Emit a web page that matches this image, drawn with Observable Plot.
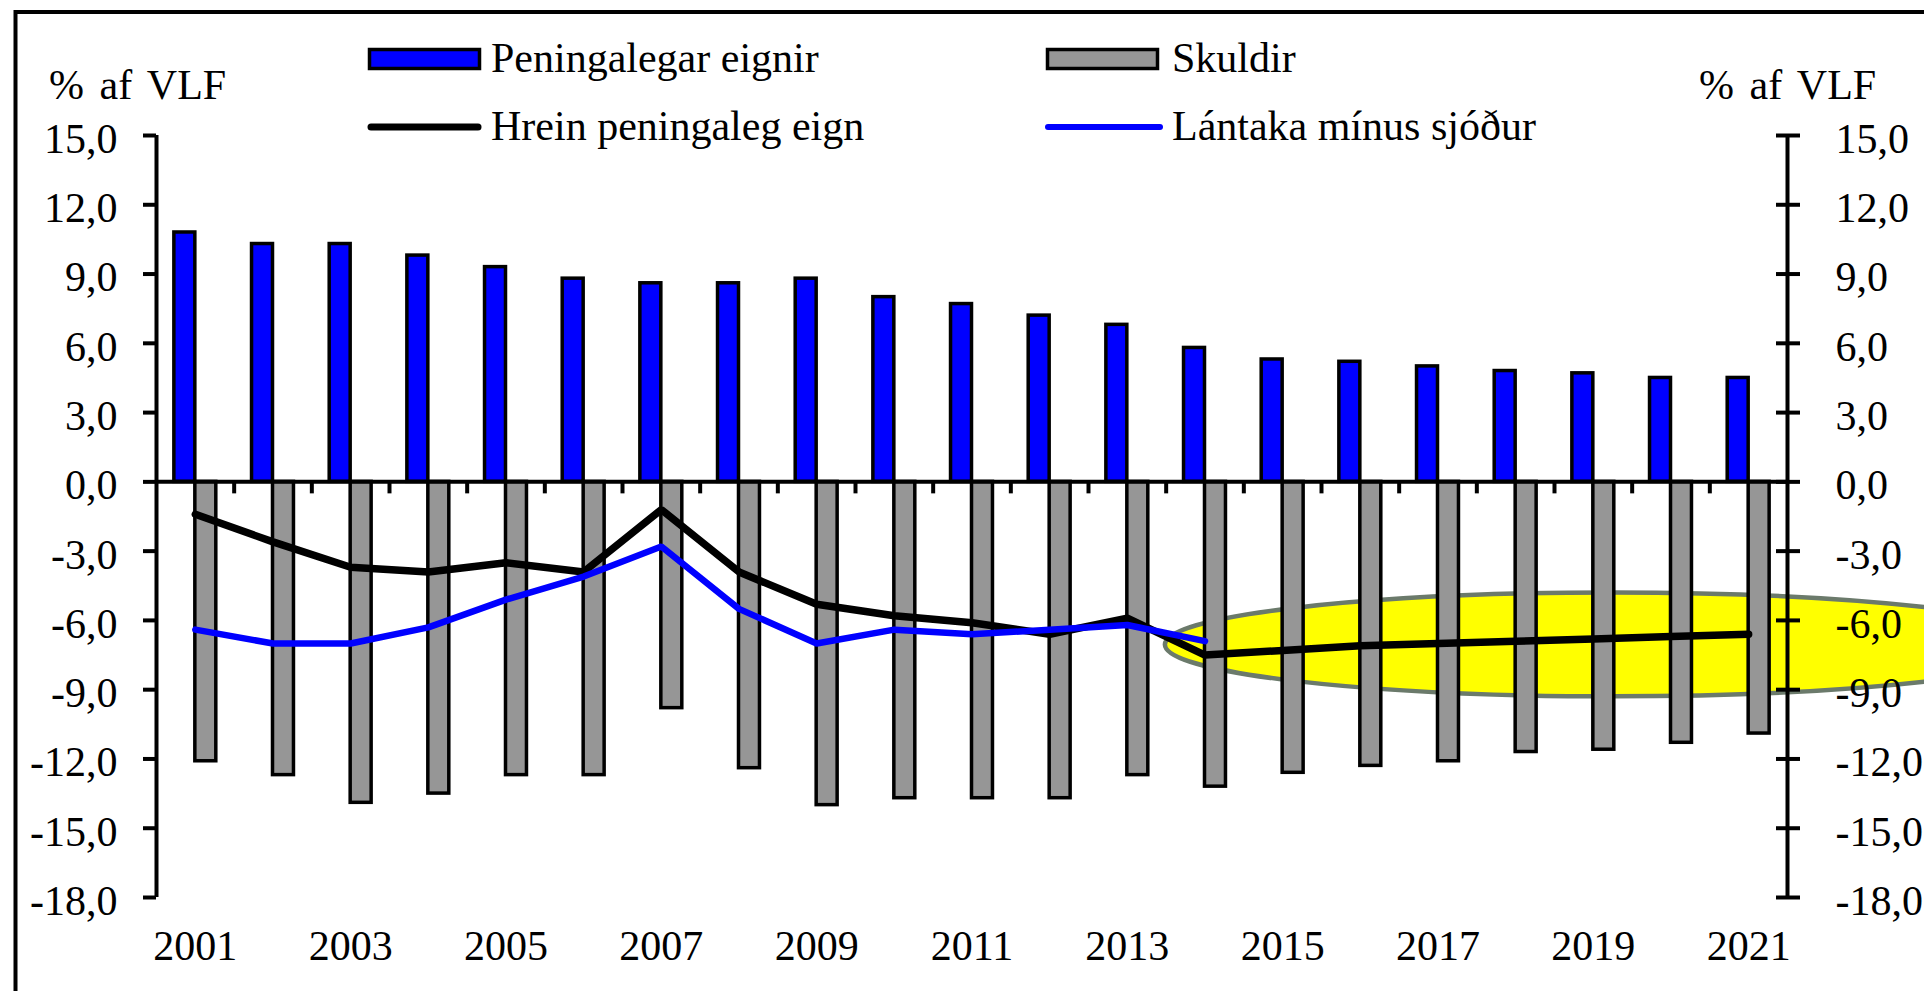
<!DOCTYPE html>
<html>
<head>
<meta charset="utf-8">
<script src="https://cdn.jsdelivr.net/npm/d3@7"></script>
<script src="https://cdn.jsdelivr.net/npm/@observablehq/plot@0.6"></script>
<style>
  html, body { margin: 0; padding: 0; overflow: hidden; background: #fff; }
  #chart svg { display: block; }
</style>
</head>
<body>
<div id="chart"></div>
<script>
// ---- data ----
const years = [2001, 2002, 2003, 2004, 2005, 2006, 2007, 2008, 2009, 2010, 2011,
               2012, 2013, 2014, 2015, 2016, 2017, 2018, 2019, 2020, 2021];
const peningalegarEignir = [10.8, 10.3, 10.3, 9.8, 9.3, 8.8, 8.6, 8.6, 8.8, 8.0, 7.7,
                            7.2, 6.8, 5.8, 5.3, 5.2, 5.0, 4.8, 4.7, 4.5, 4.5];
const skuldir = [-12.1, -12.7, -13.9, -13.5, -12.7, -12.7, -9.8, -12.4, -14.0, -13.7, -13.7,
                 -13.7, -12.7, -13.2, -12.6, -12.3, -12.1, -11.7, -11.6, -11.3, -10.9];
const hreinPeningalegEign = [-1.4, -2.6, -3.7, -3.9, -3.5, -3.9, -1.2, -3.9, -5.3, -5.8, -6.1,
                             -6.6, -5.9, -7.5, -7.3, -7.1, -7.0, -6.9, -6.8, -6.7, -6.6];
const lantakaYears = [2001, 2002, 2003, 2004, 2005, 2006, 2007, 2008, 2009, 2010, 2011, 2012, 2013, 2014];
const lantakaMinusSjodur = [-6.4, -7.0, -7.0, -6.3, -5.1, -4.1, -2.8, -5.5, -7.0, -6.4, -6.6, -6.4, -6.2, -6.9];

const yTickValues = [15, 12, 9, 6, 3, 0, -3, -6, -9, -12, -15, -18];
const yTickLabels = ["15,0", "12,0", "9,0", "6,0", "3,0", "0,0", "-3,0", "-6,0", "-9,0", "-12,0", "-15,0", "-18,0"];
const xLabelYears = [2001, 2003, 2005, 2007, 2009, 2011, 2013, 2015, 2017, 2019, 2021];
const seriesNames = ["Peningalegar eignir", "Skuldir", "Hrein peningaleg eign", "Lántaka mínus sjóður"];
const unitLabel = "% af VLF";
// highlighted forecast region (yellow ellipse), in data units
const forecastHighlight = { year: 2019.26, value: -7.06, halfYears: 5.77, halfValue: 2.25 };

// ---- derived tables ----
const table = years.map((year, i) => ({
  year, assets: peningalegarEignir[i], debt: skuldir[i], net: hreinPeningalegEign[i]
}));
const lend = lantakaYears.map((year, i) => ({ year, value: lantakaMinusSjodur[i] }));
const labelOf = v => yTickLabels[yTickValues.indexOf(v)];
const boundaries = years.slice(0, -1).map(y => y + 0.5);
const X0 = years[0] - 0.5, X1 = years[years.length - 1] + 0.5;
const BAR = 0.27;

const BLUE = "#0000ff", GRAY = "#969696";

function highlight(index, { x, y }) {
  const cx = x(forecastHighlight.year), cy = y(forecastHighlight.value);
  const rx = x(forecastHighlight.year + forecastHighlight.halfYears) - cx;
  const ry = cy - y(forecastHighlight.value + forecastHighlight.halfValue);
  return d3.create("svg:ellipse")
    .attr("cx", cx).attr("cy", cy).attr("rx", rx).attr("ry", ry)
    .attr("fill", "#ffff00").attr("stroke", "#6b7a6b").attr("stroke-width", 4.5)
    .node();
}

function decorations() {
  const g = d3.create("svg:g").attr("text-anchor", "start").attr("fill", "#000");
  // outer frame (cropped on the right and bottom)
  g.append("path").attr("d", "M15.5,995V12H1930")
    .attr("fill", "none").attr("stroke", "#000").attr("stroke-width", 4);
  // unit labels
  g.append("text").attr("x", 49).attr("y", 99).attr("word-spacing", 5).text(unitLabel);
  g.append("text").attr("x", 1699).attr("y", 99).attr("word-spacing", 5).text(unitLabel);
  // legend
  g.append("rect").attr("x", 369.5).attr("y", 49.5).attr("width", 110).attr("height", 19)
    .attr("fill", BLUE).attr("stroke", "#000").attr("stroke-width", 3.5);
  g.append("text").attr("x", 491).attr("y", 72).text(seriesNames[0]);
  g.append("rect").attr("x", 1047.5).attr("y", 49.5).attr("width", 110).attr("height", 19)
    .attr("fill", GRAY).attr("stroke", "#000").attr("stroke-width", 3.5);
  g.append("text").attr("x", 1172).attr("y", 72).text(seriesNames[1]);
  g.append("line").attr("x1", 371).attr("x2", 478).attr("y1", 127).attr("y2", 127)
    .attr("stroke", "#000").attr("stroke-width", 7).attr("stroke-linecap", "round");
  g.append("text").attr("x", 491).attr("y", 140).text(seriesNames[2]);
  g.append("line").attr("x1", 1048).attr("x2", 1160).attr("y1", 127).attr("y2", 127)
    .attr("stroke", BLUE).attr("stroke-width", 6).attr("stroke-linecap", "round");
  g.append("text").attr("x", 1172).attr("y", 140).text(seriesNames[3]);
  return g.node();
}

const chart = Plot.plot({
  width: 1924,
  height: 991,
  marginLeft: 156,
  marginRight: 137,
  marginTop: 135,
  marginBottom: 94,
  x: { domain: [X0, X1], label: null },
  y: { domain: [-18, 15], label: null },
  style: {
    background: "#fff",
    color: "#000",
    fontFamily: "'Liberation Serif', 'Times New Roman', serif",
    fontSize: "42px",
    overflow: "visible"
  },
  marks: [
    decorations,
    highlight,
    Plot.rectY(table, { x1: d => d.year - BAR, x2: d => d.year, y: "assets",
      fill: BLUE, stroke: "#000", strokeWidth: 3.5 }),
    Plot.rectY(table, { x1: d => d.year, x2: d => d.year + BAR, y: "debt",
      fill: GRAY, stroke: "#000", strokeWidth: 3.5 }),
    Plot.ruleY([0], { x1: X0, x2: X1, stroke: "#000", strokeWidth: 4 }),
    Plot.ruleX(boundaries, { y1: 0, y2: 0, insetBottom: -12, stroke: "#000", strokeWidth: 4 }),
    Plot.ruleX([X0, X1], { y1: -18, y2: 15, stroke: "#000", strokeWidth: 4 }),
    Plot.line(table, { x: "year", y: "net", stroke: "#000", strokeWidth: 7.5,
      strokeLinecap: "round", strokeLinejoin: "miter" }),
    Plot.line(lend, { x: "year", y: "value", stroke: BLUE, strokeWidth: 6.5,
      strokeLinecap: "round", strokeLinejoin: "miter" }),
    // left axis: ticks then labels
    Plot.axisY({ anchor: "left", ticks: yTickValues, tickSize: 13, tickFormat: () => "",
      stroke: "#000", strokeWidth: 4, label: null }),
    Plot.axisY({ anchor: "left", ticks: yTickValues, tickSize: 0, tickPadding: 39,
      tickFormat: labelOf, dy: 4, fill: "#000", label: null }),
    // right axis: crossing ticks then labels
    Plot.axisY({ anchor: "right", ticks: yTickValues, tickSize: 24, dx: -12, tickFormat: () => "",
      stroke: "#000", strokeWidth: 4, label: null }),
    Plot.axisY({ anchor: "right", ticks: yTickValues, tickSize: 0, tickPadding: 48,
      tickFormat: labelOf, dy: 4, fill: "#000", label: null }),
    // bottom year labels
    Plot.axisX({ anchor: "bottom", ticks: xLabelYears, tickSize: 0, tickPadding: 33,
      tickFormat: d => String(d), fill: "#000", label: null })
  ]
});

document.getElementById("chart").append(chart);
</script>
</body>
</html>
